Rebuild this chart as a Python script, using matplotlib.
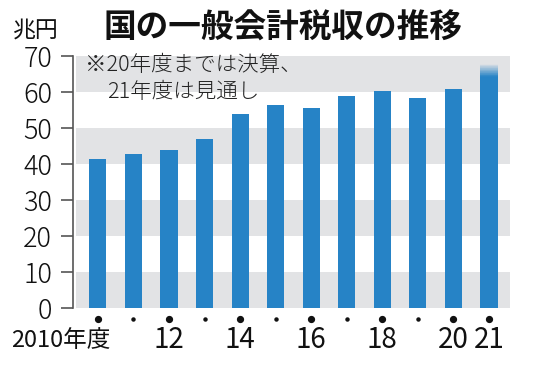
import matplotlib
matplotlib.use("Agg")
import matplotlib.pyplot as plt
import numpy as np

plt.rcParams['font.family'] = ['Noto Sans CJK JP', 'DejaVu Sans']

years = [2010, 2011, 2012, 2013, 2014, 2015, 2016, 2017, 2018, 2019, 2020, 2021]
tax_revenue = [41.5, 42.8, 43.9, 47.0, 54.0, 56.3, 55.5, 58.8, 60.4, 58.4, 60.8, 67.8]
major_years = [2010, 2012, 2014, 2016, 2018, 2020, 2021]
x_labels = ['2010年度', '12', '14', '16', '18', '20', '21']
y_ticks = [0, 10, 20, 30, 40, 50, 60, 70]
title = '国の一般会計税収の推移'
unit = '兆円'
note_lines = ['※20年度までは決算、', '21年度は見通し']

bar_color = '#2683c6'
band_color = '#e2e3e5'
axis_color = '#555555'

fig = plt.figure(figsize=(5.35, 3.66), dpi=100)
ax = fig.add_axes([73/535, 1-308/366, (510-73)/535, (308-56)/366])

x = np.arange(len(years))
ax.set_xlim(-0.70, len(years) - 1 + 0.59)
ax.set_ylim(0, 70)

# alternating gray bands
for lo in y_ticks[:-1:2]:
    ax.axhspan(lo, lo + 10, xmin=0.007, xmax=1, color=band_color, lw=0, zorder=0)

# bars (last bar fades at its top: forecast)
fade = 3.5
solid = list(tax_revenue[:-1]) + [tax_revenue[-1] - fade]
ax.bar(x, solid, width=0.48, color=bar_color, zorder=2, edgecolor='none')
top_start = tax_revenue[-1] - fade
n = 20
for i in range(n):
    a = 1 - (i + 0.5) / n
    ax.bar(x[-1], fade / n, bottom=top_start + i * fade / n, width=0.48,
           color=bar_color, alpha=a, zorder=2, edgecolor='none', lw=0)

# y axis
ax.set_yticks(y_ticks)
ax.set_yticklabels([str(v) for v in y_ticks], fontsize=19.5, color='#111111',
                   fontweight='light')
ax.tick_params(axis='y', length=9, width=1.2, color=axis_color, pad=6)
ax.set_xticks([])
for s in ['top', 'right', 'bottom']:
    ax.spines[s].set_visible(False)
ax.spines['left'].set_color(axis_color)
ax.spines['left'].set_linewidth(1.2)

# dots under bars
for xi, yr in zip(x, years):
    big = yr in major_years
    ax.plot(xi, -3.0, 'o', color='#111111', ms=4.2 if big else 2.2,
            clip_on=False, zorder=3)

# x labels
tr = ax.get_xaxis_transform()
for yr, lab in zip(major_years, x_labels):
    xi = years.index(yr)
    if lab.endswith('年度'):
        ax.text(xi + 0.36, -0.127, lab, transform=tr, ha='right', va='center',
                fontsize=17, color='#111111')
    else:
        ax.text(xi, -0.127, lab, transform=tr, ha='center', va='center',
                fontsize=20, color='#111111')

# titles
fig.text(283/535, 1-28/366, title, ha='center', va='center', fontsize=23.5,
         fontweight='bold', color='#111111')
fig.text(36/535, 1-30/366, unit, ha='center', va='center', fontsize=16.5,
         color='#111111')

# note
fig.text(85/535, 1-65/366, note_lines[0], ha='left', va='center', fontsize=15.5,
         color='#222222', fontweight='light')
fig.text(107/535, 1-92/366, note_lines[1], ha='left', va='center', fontsize=15.5,
         color='#222222', fontweight='light')

fig.savefig('out.png', dpi=100)
